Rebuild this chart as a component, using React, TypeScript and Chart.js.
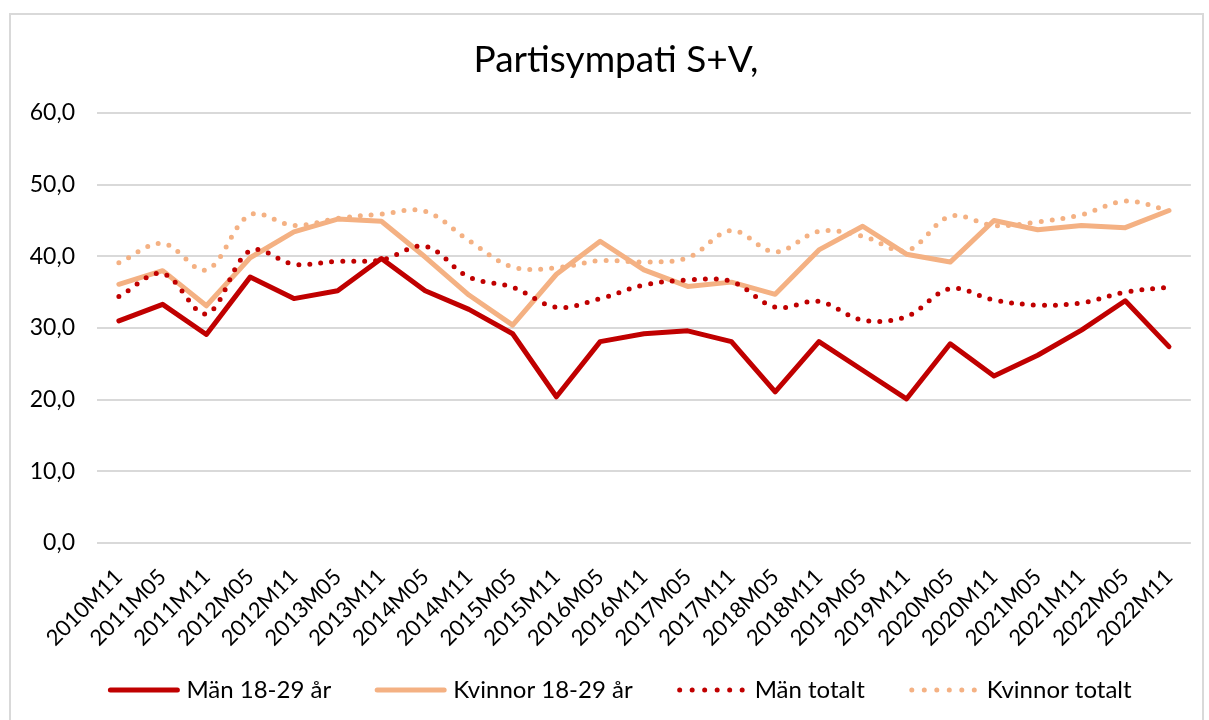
import React, { useEffect, useRef } from 'react';
import { Chart, registerables } from 'chart.js';

Chart.register(...registerables);

const categories = [
  '2010M11', '2011M05', '2011M11', '2012M05', '2012M11', '2013M05', '2013M11',
  '2014M05', '2014M11', '2015M05', '2015M11', '2016M05', '2016M11', '2017M05',
  '2017M11', '2018M05', '2018M11', '2019M05', '2019M11', '2020M05', '2020M11',
  '2021M05', '2021M11', '2022M05', '2022M11',
];

const manYoung = [
  31.0, 33.3, 29.1, 37.1, 34.1, 35.2, 39.7, 35.2, 32.6, 29.2, 20.4, 28.1, 29.2,
  29.6, 28.1, 21.1, 28.1, 24.1, 20.1, 27.8, 23.3, 26.2, 29.7, 33.8, 27.4,
];
const womenYoung = [
  36.1, 38.0, 33.1, 39.8, 43.4, 45.2, 44.9, 39.9, 34.6, 30.4, 37.5, 42.1, 38.1,
  35.8, 36.4, 34.7, 40.9, 44.2, 40.3, 39.2, 45.0, 43.7, 44.3, 44.0, 46.4,
];
const menTotal = [
  34.4, 37.6, 32.0, 40.8, 38.9, 39.3, 39.5, 41.4, 37.1, 35.7, 32.9, 34.1, 36.0,
  36.7, 36.5, 32.9, 33.7, 31.1, 31.6, 35.5, 33.9, 33.2, 33.5, 35.0, 35.7,
];
const womenTotal = [
  39.1, 41.8, 38.1, 45.8, 44.3, 45.3, 45.9, 46.3, 42.2, 38.5, 38.4, 39.4, 39.2,
  39.8, 43.6, 40.6, 43.5, 42.8, 40.8, 45.6, 44.3, 44.8, 45.8, 47.7, 46.4,
];

const yTickLabels = ['0,0', '10,0', '20,0', '30,0', '40,0', '50,0', '60,0'];
const titleText = 'Partisympati S+V,';
const seriesNames = ['Män 18-29 år', 'Kvinnor 18-29 år', 'Män totalt', 'Kvinnor totalt'];

const DARK = '#C00000';
const LIGHT = '#F4B183';
const GRID = '#d9d9d9';
const FONT = 'Lato';

const legendItems = [
  { label: seriesNames[0], color: DARK, dotted: false },
  { label: seriesNames[1], color: LIGHT, dotted: false },
  { label: seriesNames[2], color: DARK, dotted: true },
  { label: seriesNames[3], color: LIGHT, dotted: true },
];

const decorPlugin = {
  id: 'decor',
  beforeDraw(chart: any) {
    const ctx = chart.ctx;
    ctx.save();
    ctx.fillStyle = '#ffffff';
    ctx.fillRect(0, 0, chart.width, chart.height);
    ctx.strokeStyle = GRID;
    ctx.lineWidth = 2;
    ctx.strokeRect(10, 14, 1193, 740);
    ctx.restore();
  },
  afterDraw(chart: any) {
    const ctx = chart.ctx;
    ctx.save();
    // title
    ctx.fillStyle = '#000000';
    ctx.font = `37px ${FONT}`;
    ctx.textAlign = 'center';
    ctx.textBaseline = 'alphabetic';
    ctx.fillText(titleText, 616, 72);

    // legend
    ctx.font = `24px ${FONT}`;
    ctx.textAlign = 'left';
    const lineLen = 71;
    const textGap = 7;
    const itemGap = 44;
    const widths = legendItems.map((it) => ctx.measureText(it.label).width);
    const total =
      widths.reduce((a, b) => a + b, 0) + legendItems.length * (lineLen + textGap) + itemGap * (legendItems.length - 1);
    let x = 620 - total / 2;
    const ly = 690;
    legendItems.forEach((it, i) => {
      ctx.beginPath();
      ctx.strokeStyle = it.color;
      ctx.lineWidth = 5;
      ctx.lineCap = 'round';
      if (it.dotted) {
        ctx.setLineDash([0, 12.5]);
        ctx.moveTo(x + 3, ly);
        ctx.lineTo(x + lineLen, ly);
      } else {
        ctx.setLineDash([]);
        ctx.moveTo(x + 2, ly);
        ctx.lineTo(x + lineLen - 2, ly);
      }
      ctx.stroke();
      ctx.setLineDash([]);
      ctx.fillStyle = '#000000';
      ctx.fillText(it.label, x + lineLen + textGap, 698);
      x += lineLen + textGap + widths[i] + itemGap;
    });
    ctx.restore();
  },
};

export default function App() {
  const canvasRef = useRef<HTMLCanvasElement | null>(null);

  useEffect(() => {
    const canvas = canvasRef.current;
    if (!canvas) return;
    const chart = new Chart(canvas, {
      type: 'line',
      data: {
        labels: categories,
        datasets: [
          {
            label: seriesNames[0],
            data: manYoung,
            borderColor: DARK,
            backgroundColor: DARK,
            borderWidth: 5,
            pointRadius: 0,
            tension: 0,
            borderJoinStyle: 'round',
            borderCapStyle: 'round',
            order: 3,
          },
          {
            label: seriesNames[1],
            data: womenYoung,
            borderColor: LIGHT,
            backgroundColor: LIGHT,
            borderWidth: 5,
            pointRadius: 0,
            tension: 0,
            borderJoinStyle: 'round',
            borderCapStyle: 'round',
            order: 2,
          },
          {
            label: seriesNames[2],
            data: menTotal,
            borderColor: DARK,
            backgroundColor: DARK,
            borderWidth: 5,
            borderDash: [0, 11],
            borderCapStyle: 'round',
            pointRadius: 0,
            tension: 0.35,
            order: 1,
          },
          {
            label: seriesNames[3],
            data: womenTotal,
            borderColor: LIGHT,
            backgroundColor: LIGHT,
            borderWidth: 5,
            borderDash: [0, 11],
            borderCapStyle: 'round',
            pointRadius: 0,
            tension: 0.35,
            order: 0,
          },
        ],
      },
      options: {
        responsive: false,
        animation: false,
        events: [],
        layout: { padding: { left: 0, right: 18, top: 113, bottom: 57 } },
        plugins: {
          legend: { display: false },
          title: { display: false },
          tooltip: { enabled: false },
        },
        scales: {
          x: {
            offset: true,
            grid: { display: false, drawTicks: false },
            border: { display: false },
            ticks: {
              autoSkip: false,
              minRotation: 45,
              maxRotation: 45,
              padding: 21,
              color: '#000000',
              font: { family: FONT, size: 22 },
            },
            afterFit: (s: any) => {
              s.height = 120;
            },
          },
          y: {
            min: 0,
            max: 60,
            grid: { color: GRID, lineWidth: 2, drawTicks: false },
            border: { display: false },
            ticks: {
              stepSize: 10,
              padding: 22,
              color: '#000000',
              font: { family: FONT, size: 23 },
              callback: (v: any) => yTickLabels[Math.round(Number(v) / 10)],
            },
            afterFit: (s: any) => {
              s.width = 97;
            },
          },
        },
      },
      plugins: [decorPlugin],
    });
    return () => chart.destroy();
  }, []);

  return (
    <div style={{ position: 'fixed', left: 0, top: 0, width: 1209, height: 720, background: '#fff' }}>
      <canvas ref={canvasRef} width={1209} height={720} style={{ display: 'block', width: 1209, height: 720 }} />
    </div>
  );
}
